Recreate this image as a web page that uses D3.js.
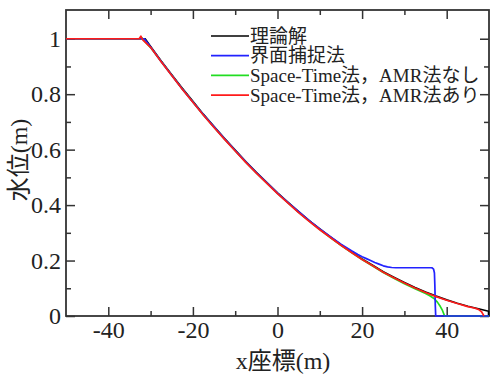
<!DOCTYPE html>
<html>
<head>
<meta charset="utf-8">
<script src="https://cdn.jsdelivr.net/npm/d3@7"></script>
<style>
  body { margin: 0; background: #fff; }
  svg { display: block; }
  svg text { font-family: "Liberation Serif", "Noto Sans CJK JP", serif; }
</style>
</head>
<body>
<div id="chart"></div>
<script>
/* Water level along x after the dam break: theory vs three schemes */

const width = 493, height = 381,
    margin = ({ top: 10, right: 4, bottom: 65, left: 66 });

/* tick values */
const xMajor = [-40, -20, 0, 20, 40];
const xMinor = [-30, -10, 10, 30];
const yMajor = [0, 0.2, 0.4, 0.6, 0.8, 1];
const yMinor = [0.1, 0.3, 0.5, 0.7, 0.9];

/* series */
const xTheory = [-50, -31.3, -30, -27.5, -25, -22.5, -20, -17.5, -15, -12.5, -10, -7.5, -5, -2.5, 0, 2.5, 5, 7.5, 10, 12.5, 15, 17.5, 20, 22.5, 25, 27.5, 30, 32.5, 35, 37.5, 40, 42.5, 45, 47.5, 49.9, 49.9];
const hTheory = [1, 1, 0.972, 0.920, 0.870, 0.821, 0.774, 0.727, 0.683, 0.640, 0.598, 0.557, 0.518, 0.481, 0.444, 0.410, 0.376, 0.344, 0.314, 0.285, 0.257, 0.231, 0.206, 0.183, 0.160, 0.140, 0.121, 0.103, 0.0865, 0.0716, 0.0581, 0.046, 0.0352, 0.026, 0.017, 0];

const xCapture = [-50, -31.5, -30, -27.5, -25, -22.5, -20, -17.5, -15, -12.5, -10, -7.5, -5, -2.5, 0, 2.5, 5, 7.5, 10, 12.5, 15, 17.5, 19, 20, 21, 22, 23, 24, 25, 26, 27, 28, 32, 36.5, 36.9, 37.1, 37.2, 37.3, 37.4, 50];
const hCapture = [1, 1, 0.970, 0.918, 0.868, 0.819, 0.772, 0.726, 0.682, 0.639, 0.597, 0.556, 0.517, 0.480, 0.443, 0.409, 0.376, 0.344, 0.314, 0.286, 0.259, 0.235, 0.222, 0.214, 0.207, 0.200, 0.193, 0.187, 0.181, 0.177, 0.175, 0.174, 0.174, 0.174, 0.169, 0.155, 0.110, 0.040, 0, 0];

const xSTnoAMR = [-50, -32.4, -32.1, -31.7, -30, -27.5, -25, -22.5, -20, -17.5, -15, -12.5, -10, -7.5, -5, -2.5, 0, 2.5, 5, 7.5, 10, 12.5, 15, 17.5, 20, 22.5, 25, 27.5, 30, 32.5, 35, 36, 37, 37.8, 38.5, 39, 39.3, 39.5, 50];
const hSTnoAMR = [1, 1, 1.004, 0.996, 0.968, 0.918, 0.868, 0.819, 0.772, 0.725, 0.681, 0.638, 0.596, 0.555, 0.516, 0.479, 0.442, 0.408, 0.374, 0.342, 0.312, 0.283, 0.255, 0.229, 0.204, 0.180, 0.157, 0.136, 0.116, 0.098, 0.081, 0.073, 0.063, 0.050, 0.034, 0.020, 0.008, 0, 0];

const xSTAMR = [-50, -32.7, -32.3, -31.9, -30, -27.5, -25, -22.5, -20, -17.5, -15, -12.5, -10, -7.5, -5, -2.5, 0, 2.5, 5, 7.5, 10, 12.5, 15, 17.5, 20, 22.5, 25, 27.5, 30, 32.5, 35, 37.5, 40, 42.5, 45, 46.5, 47.5, 48.2, 48.6, 48.8];
const hSTAMR = [1, 1, 1.009, 0.997, 0.969, 0.917, 0.867, 0.818, 0.771, 0.724, 0.680, 0.637, 0.595, 0.554, 0.515, 0.478, 0.441, 0.407, 0.373, 0.341, 0.311, 0.283, 0.255, 0.229, 0.204, 0.181, 0.158, 0.138, 0.119, 0.101, 0.085, 0.070, 0.057, 0.045, 0.034, 0.029, 0.024, 0.016, 0.006, 0];

const seriesNames = ["理論解", "界面捕捉法", "Space-Time法，AMR法なし", "Space-Time法，AMR法あり"];
const seriesColors = ["#000000", "#2222ff", "#22dd22", "#ff1a1a"];

const svg = d3.select("#chart")
    .append("svg")
    .attr("width", width)
    .attr("height", height)
    .attr("viewBox", [0, 0, width, height]);

let x = d3.scaleLinear()
    .domain([-50, 50])
    .range([margin.left, width - margin.right]);

let y = d3.scaleLinear()
    .domain([0, 1.1])
    .range([height - margin.bottom, margin.top + 1]);

/* axes first (lines go over the frame): ticks point inward on all four sides */
const axisColor = "#333";
const bottomY = height - margin.bottom, rightX = width - margin.right;

function styleAxis(g) {
    g.attr("font-family", null).attr("font-size", null);
    g.select(".domain").remove();
    g.selectAll("line").attr("stroke", axisColor).attr("stroke-width", 1.5);
    g.selectAll("text")
      .attr("fill", "#222")
      .style("font-size", "24px")
      .style("font-family", "'Liberation Serif', serif");
}

svg.append("rect")
  .attr("x", margin.left)
  .attr("y", margin.top)
  .attr("width", rightX - margin.left)
  .attr("height", bottomY - margin.top)
  .attr("fill", "none")
  .attr("stroke", axisColor)
  .attr("stroke-width", 1.8);

svg.append("g")
  .attr("transform", `translate(0,${bottomY})`)
  .call(d3.axisBottom(x).tickValues(xMajor).tickSize(-9).tickPadding(5).tickFormat(d => String(d)))
  .call(styleAxis);
svg.append("g")
  .attr("transform", `translate(0,${bottomY})`)
  .call(d3.axisBottom(x).tickValues(xMinor).tickSize(-5).tickFormat(""))
  .call(styleAxis);
svg.append("g")
  .attr("transform", `translate(0,${margin.top})`)
  .call(d3.axisTop(x).tickValues(xMajor).tickSize(-9).tickFormat(""))
  .call(styleAxis);
svg.append("g")
  .attr("transform", `translate(0,${margin.top})`)
  .call(d3.axisTop(x).tickValues(xMinor).tickSize(-5).tickFormat(""))
  .call(styleAxis);

svg.append("g")
  .attr("transform", `translate(${margin.left},0)`)
  .call(d3.axisLeft(y).tickValues(yMajor).tickSize(-9).tickPadding(5).tickFormat(d => String(d)))
  .call(styleAxis);
svg.append("g")
  .attr("transform", `translate(${margin.left},0)`)
  .call(d3.axisLeft(y).tickValues(yMinor).tickSize(-5).tickFormat(""))
  .call(styleAxis);
svg.append("g")
  .attr("transform", `translate(${rightX},0)`)
  .call(d3.axisRight(y).tickValues(yMajor).tickSize(-9).tickFormat(""))
  .call(styleAxis);
svg.append("g")
  .attr("transform", `translate(${rightX},0)`)
  .call(d3.axisRight(y).tickValues(yMinor).tickSize(-5).tickFormat(""))
  .call(styleAxis);

/* lines - drawn in this order so red stays on top */
let line = d3.line()
    .x(d => x(d[0]))
    .y(d => y(d[1]));

const series = [
    { xs: xTheory, hs: hTheory, c: seriesColors[0] },
    { xs: xSTnoAMR, hs: hSTnoAMR, c: seriesColors[2] },
    { xs: xCapture, hs: hCapture, c: seriesColors[1] },
    { xs: xSTAMR, hs: hSTAMR, c: seriesColors[3] }
];

svg.append("g")
  .selectAll("path")
  .data(series)
  .join("path")
    .attr("d", s => line(d3.zip(s.xs, s.hs)))
    .attr("fill", "none")
    .attr("stroke", s => s.c)
    .attr("stroke-width", 1.7)
    .attr("stroke-linejoin", "round");

/* axis titles */
svg.append("text")
  .attr("x", 283)
  .attr("y", 369)
  .attr("text-anchor", "middle")
  .attr("font-size", 24)
  .attr("fill", "#222")
  .text("x座標(m)");

svg.append("text")
  .attr("transform", "translate(27,160) rotate(-90)")
  .attr("text-anchor", "middle")
  .attr("font-size", 24)
  .attr("fill", "#222")
  .text("水位(m)");

/* legend */
const legend = svg.append("g")
  .selectAll("g")
  .data(seriesNames)
  .join("g")
    .attr("transform", (d, i) => `translate(211,${36 + i * 19.7})`);

legend.append("line")
  .attr("x1", 0).attr("x2", 38)
  .attr("stroke", (d, i) => seriesColors[i])
  .attr("stroke-width", 1.7);

legend.append("text")
  .attr("x", 39)
  .attr("dy", "0.35em")
  .attr("font-size", 19)
  .attr("fill", "#222")
  .text(d => d);
</script>
</body>
</html>
